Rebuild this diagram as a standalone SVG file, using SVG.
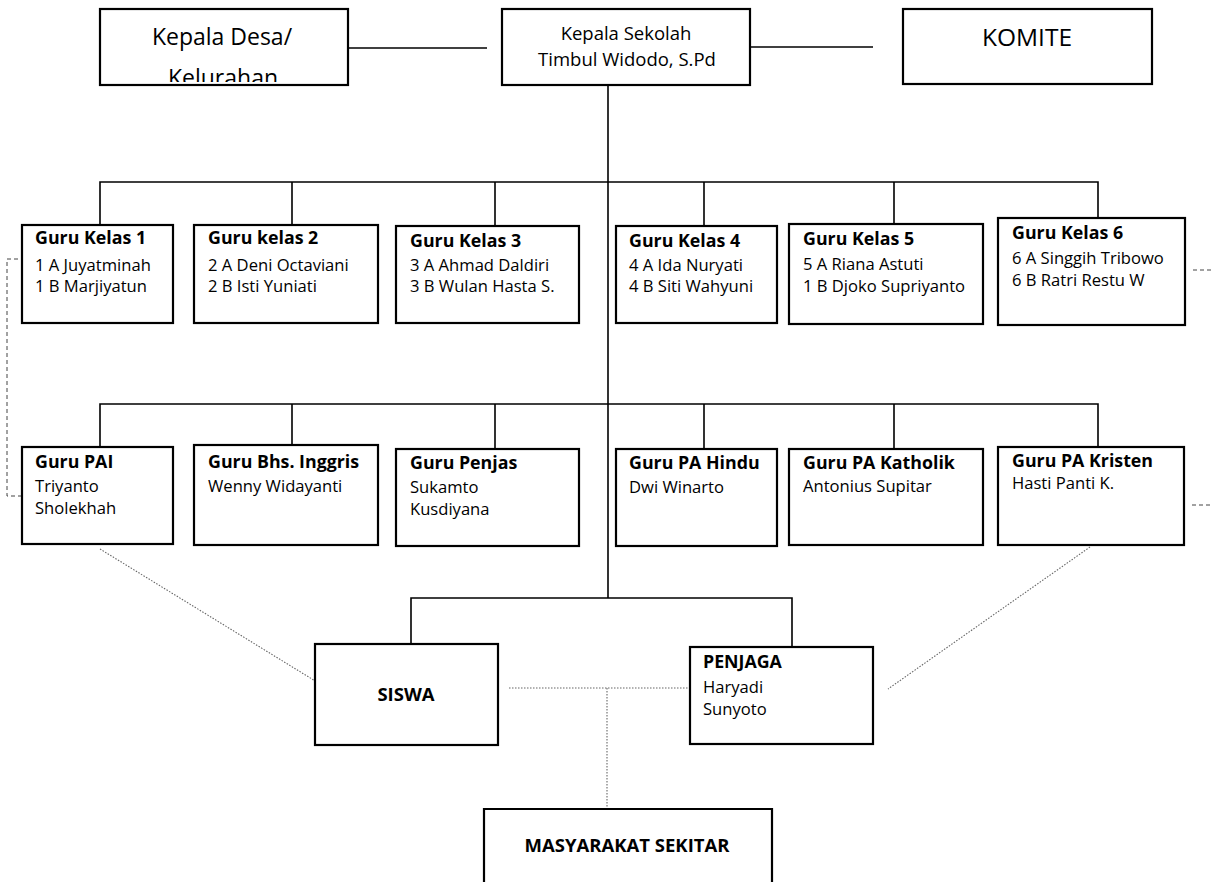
<svg xmlns="http://www.w3.org/2000/svg" width="1213" height="882" viewBox="0 0 1213 882">
<style>
.box{fill:#fff;stroke:#000;stroke-width:2.2}
.ln{fill:none;stroke:#000;stroke-width:1.6}
.dash{fill:none;stroke:#444;stroke-width:1;stroke-dasharray:4 3}
.dot{fill:none;stroke:#666;stroke-width:1.1;stroke-dasharray:1.5 1.5}
text{font-family:"Open Sans","Noto Sans","Liberation Sans",sans-serif;fill:#000}
.t{font-size:17.8px;font-weight:bold}
.r{font-size:16.6px}
.c{text-anchor:middle}
.b{font-size:18.5px;font-weight:bold}
</style>
<defs>
<clipPath id="clipDesa"><rect x="100" y="9" width="248" height="73"/></clipPath>
</defs>
<g id="connectors">
<line class="ln" x1="348" y1="48" x2="487" y2="48"/>
<line class="ln" x1="735" y1="47" x2="873" y2="47"/>
<line class="ln" x1="608" y1="85" x2="608" y2="598"/>
<path class="ln" d="M100,225 V182 H1098 V218 M292,182 V225 M495,182 V226 M704,182 V226 M894,182 V224"/>
<path class="ln" d="M100,447 V404 H1098 V447 M292,404 V445 M495,404 V449 M704,404 V449 M894,404 V449"/>
<path class="ln" d="M411,644 V598 H792 V647"/>
<path class="dash" d="M32,259 H7 V496 H28"/>
<line class="dash" x1="1193" y1="270" x2="1213" y2="270"/>
<line class="dash" x1="1192" y1="505" x2="1213" y2="505"/>
<line class="dot" x1="100" y1="549" x2="325" y2="687"/>
<line class="dot" x1="1090" y1="547" x2="888" y2="689"/>
<line class="dot" x1="509" y1="688" x2="696" y2="688"/>
<line class="dot" x1="607" y1="688" x2="607" y2="808"/>
</g>
<g id="kepala-desa">
<rect class="box" x="100" y="9" width="248" height="76"/>
<g clip-path="url(#clipDesa)">
<text class="c" x="222" y="45" font-size="23">Kepala Desa/</text>
<text class="c" x="223" y="86" font-size="23">Kelurahan</text>
</g>
</g>
<g id="kepala-sekolah">
<rect class="box" x="502" y="9" width="248" height="76"/>
<text class="c" x="626" y="40" font-size="18.5">Kepala Sekolah</text>
<text class="c" x="627" y="66" font-size="18.5">Timbul Widodo, S.Pd</text>
</g>
<g id="komite">
<rect class="box" x="903" y="9" width="249" height="75"/>
<text class="c" x="1027" y="46" font-size="24.5">KOMITE</text>
</g>
<g id="guru-kelas-1">
<rect class="box" x="22" y="225" width="151" height="98"/>
<text class="t" x="35" y="244">Guru Kelas 1</text>
<text class="r" x="35" y="271">1 A Juyatminah</text>
<text class="r" x="35" y="292">1 B Marjiyatun</text>
</g>
<g id="guru-kelas-2">
<rect class="box" x="194" y="225" width="184" height="98"/>
<text class="t" x="208" y="244">Guru kelas 2</text>
<text class="r" x="208" y="271">2 A Deni Octaviani</text>
<text class="r" x="208" y="292">2 B Isti Yuniati</text>
</g>
<g id="guru-kelas-3">
<rect class="box" x="396" y="226" width="183" height="97"/>
<text class="t" x="410" y="247">Guru Kelas 3</text>
<text class="r" x="410" y="271">3 A Ahmad Daldiri</text>
<text class="r" x="410" y="292">3 B Wulan Hasta S.</text>
</g>
<g id="guru-kelas-4">
<rect class="box" x="616" y="226" width="161" height="97"/>
<text class="t" x="629" y="247">Guru Kelas 4</text>
<text class="r" x="629" y="271">4 A Ida Nuryati</text>
<text class="r" x="629" y="292">4 B Siti Wahyuni</text>
</g>
<g id="guru-kelas-5">
<rect class="box" x="789" y="224" width="194" height="100"/>
<text class="t" x="803" y="245">Guru Kelas 5</text>
<text class="r" x="803" y="270">5 A Riana Astuti</text>
<text class="r" x="803" y="292">1 B Djoko Supriyanto</text>
</g>
<g id="guru-kelas-6">
<rect class="box" x="998" y="218" width="187" height="107"/>
<text class="t" x="1012" y="239">Guru Kelas 6</text>
<text class="r" x="1012" y="264">6 A Singgih Tribowo</text>
<text class="r" x="1012" y="286">6 B Ratri Restu W</text>
</g>
<g id="guru-pai">
<rect class="box" x="22" y="447" width="151" height="97"/>
<text class="t" x="35" y="468">Guru PAI</text>
<text class="r" x="35" y="492">Triyanto</text>
<text class="r" x="35" y="514">Sholekhah</text>
</g>
<g id="guru-inggris">
<rect class="box" x="194" y="445" width="184" height="100"/>
<text class="t" x="208" y="468">Guru Bhs. Inggris</text>
<text class="r" x="208" y="492">Wenny Widayanti</text>
</g>
<g id="guru-penjas">
<rect class="box" x="396" y="449" width="183" height="97"/>
<text class="t" x="410" y="469">Guru Penjas</text>
<text class="r" x="410" y="493">Sukamto</text>
<text class="r" x="410" y="515">Kusdiyana</text>
</g>
<g id="guru-hindu">
<rect class="box" x="616" y="449" width="161" height="97"/>
<text class="t" x="629" y="469">Guru PA Hindu</text>
<text class="r" x="629" y="493">Dwi Winarto</text>
</g>
<g id="guru-katholik">
<rect class="box" x="789" y="449" width="194" height="96"/>
<text class="t" x="803" y="469">Guru PA Katholik</text>
<text class="r" x="803" y="492">Antonius Supitar</text>
</g>
<g id="guru-kristen">
<rect class="box" x="998" y="447" width="186" height="98"/>
<text class="t" x="1012" y="467">Guru PA Kristen</text>
<text class="r" x="1012" y="489">Hasti Panti K.</text>
</g>
<g id="siswa">
<rect class="box" x="315" y="644" width="183" height="101"/>
<text class="c b" x="406" y="701">SISWA</text>
</g>
<g id="penjaga">
<rect class="box" x="690" y="647" width="183" height="97"/>
<text class="t" x="703" y="668">PENJAGA</text>
<text class="r" x="703" y="693">Haryadi</text>
<text class="r" x="703" y="715">Sunyoto</text>
</g>
<g id="masyarakat">
<path class="box" d="M484,884 V809 H772 V884"/>
<text class="c b" x="627" y="852">MASYARAKAT SEKITAR</text>
</g>
</svg>
